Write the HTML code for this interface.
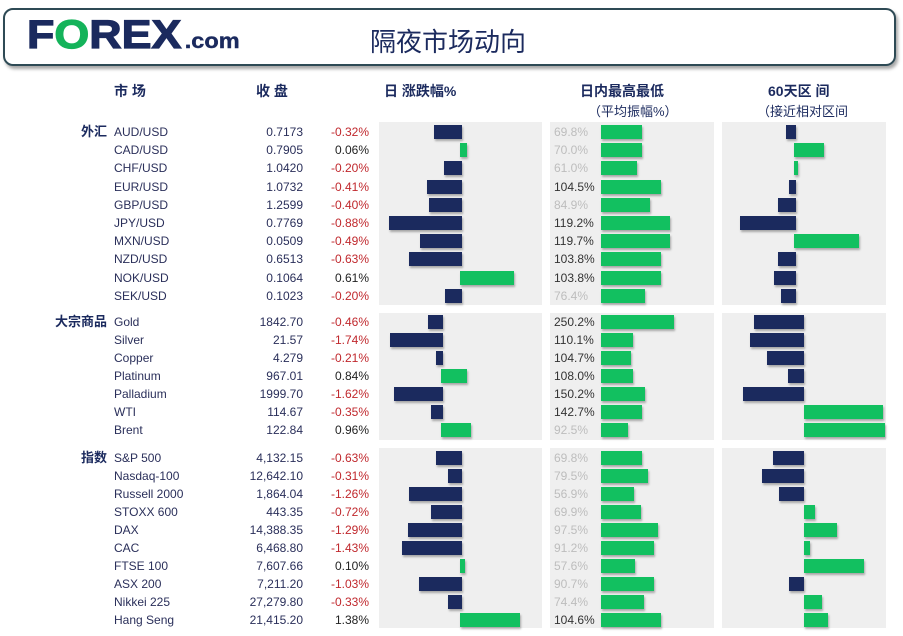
<!DOCTYPE html>
<html><head><meta charset="utf-8"><style>
*{margin:0;padding:0;box-sizing:border-box}
body{width:903px;height:636px;background:#fff;position:relative;overflow:hidden;font-family:"Liberation Sans","Noto Sans CJK SC",sans-serif;color:#2a2f5a}
.hdr{position:absolute;left:3px;top:8px;width:893px;height:58px;border:2px solid #2e4a55;border-radius:10px;box-shadow:2px 3px 3px rgba(0,0,0,.35)}
.logo{position:absolute;left:27px;top:13px;font-size:40px;font-weight:900;color:#1b2a5e;letter-spacing:0px;transform:scaleX(1.12);transform-origin:left top;-webkit-text-stroke:1.2px #1b2a5e}
.logo .o{color:#14b35a;-webkit-text-stroke:1.2px #14b35a}
.logo .com{font-size:21px;letter-spacing:0;-webkit-text-stroke:0.4px #1b2a5e;margin-left:3px}
.title{position:absolute;left:370px;top:22px;font-size:26px;color:#1b2a5e}
.h{position:absolute;font-size:14px;font-weight:bold;color:#1b2a5e}
.hs{position:absolute;font-size:13px;color:#1b2a5e}
.pn{position:absolute;background:#efefef}
.r{position:absolute;left:0;width:903px;height:16px;line-height:16px;font-size:12px}
.n{position:absolute;left:114px;color:#2a2f5a}
.c{position:absolute;right:600px;color:#2a2f5a}
.p{position:absolute;right:534px;color:#222}
.m{color:#c0282d}
.cat{position:absolute;right:796px;font-weight:bold;font-size:13px;color:#1b2a5e}
.a{position:absolute;left:554px;color:#bdbdbd}
.d{color:#333}
.b{position:absolute;height:14px;box-shadow:1px 2px 2px rgba(0,0,0,.3)}
.v{background:#1b2a5e}.g{background:#12c060}
</style></head><body>
<div class="hdr"></div>
<div class="logo">F<span class="o">O</span>REX<span class="com">.com</span></div>
<div class="title">隔夜市场动向</div>
<div class="h" style="left:114px;top:81px">市 场</div>
<div class="h" style="left:256px;top:81px">收 盘</div>
<div class="h" style="left:384px;top:81px">日 涨跌幅%</div>
<div class="h" style="left:580px;top:81px">日内最高最低</div>
<div class="hs" style="left:588px;top:101px">（平均振幅%）</div>
<div class="h" style="left:768px;top:81px">60天区 间</div>
<div class="hs" style="left:757px;top:101px">（接近相对区间</div>

<div class="pn" style="left:379px;top:122px;width:163px;height:183px"></div>
<div class="pn" style="left:550px;top:122px;width:164px;height:183px"></div>
<div class="pn" style="left:722px;top:122px;width:164px;height:183px"></div>
<div class="pn" style="left:379px;top:313px;width:163px;height:127px"></div>
<div class="pn" style="left:550px;top:313px;width:164px;height:127px"></div>
<div class="pn" style="left:722px;top:313px;width:164px;height:127px"></div>
<div class="pn" style="left:379px;top:448px;width:163px;height:180px"></div>
<div class="pn" style="left:550px;top:448px;width:164px;height:180px"></div>
<div class="pn" style="left:722px;top:448px;width:164px;height:180px"></div>

<!-- FX -->
<div class="r" style="top:124px"><span class="cat">外汇</span><span class="n">AUD/USD</span><span class="c">0.7173</span><span class="p m">-0.32%</span><span class="a">69.8%</span></div>
<div class="r" style="top:142px"><span class="n">CAD/USD</span><span class="c">0.7905</span><span class="p">0.06%</span><span class="a">70.0%</span></div>
<div class="r" style="top:160px"><span class="n">CHF/USD</span><span class="c">1.0420</span><span class="p m">-0.20%</span><span class="a">61.0%</span></div>
<div class="r" style="top:179px"><span class="n">EUR/USD</span><span class="c">1.0732</span><span class="p m">-0.41%</span><span class="a d">104.5%</span></div>
<div class="r" style="top:197px"><span class="n">GBP/USD</span><span class="c">1.2599</span><span class="p m">-0.40%</span><span class="a">84.9%</span></div>
<div class="r" style="top:215px"><span class="n">JPY/USD</span><span class="c">0.7769</span><span class="p m">-0.88%</span><span class="a d">119.2%</span></div>
<div class="r" style="top:233px"><span class="n">MXN/USD</span><span class="c">0.0509</span><span class="p m">-0.49%</span><span class="a d">119.7%</span></div>
<div class="r" style="top:251px"><span class="n">NZD/USD</span><span class="c">0.6513</span><span class="p m">-0.63%</span><span class="a d">103.8%</span></div>
<div class="r" style="top:270px"><span class="n">NOK/USD</span><span class="c">0.1064</span><span class="p">0.61%</span><span class="a d">103.8%</span></div>
<div class="r" style="top:288px"><span class="n">SEK/USD</span><span class="c">0.1023</span><span class="p m">-0.20%</span><span class="a">76.4%</span></div>

<div class="b v" style="left:434px;top:125px;width:28px"></div><div class="b g" style="left:601px;top:125px;width:41px"></div><div class="b v" style="left:786px;top:125px;width:10px"></div>
<div class="b g" style="left:460px;top:143px;width:7px"></div><div class="b g" style="left:601px;top:143px;width:41px"></div><div class="b g" style="left:794px;top:143px;width:30px"></div>
<div class="b v" style="left:444px;top:161px;width:18px"></div><div class="b g" style="left:601px;top:161px;width:36px"></div><div class="b g" style="left:794px;top:161px;width:4px"></div>
<div class="b v" style="left:427px;top:180px;width:35px"></div><div class="b g" style="left:601px;top:180px;width:60px"></div><div class="b v" style="left:789px;top:180px;width:7px"></div>
<div class="b v" style="left:429px;top:198px;width:33px"></div><div class="b g" style="left:601px;top:198px;width:49px"></div><div class="b v" style="left:778px;top:198px;width:18px"></div>
<div class="b v" style="left:389px;top:216px;width:73px"></div><div class="b g" style="left:601px;top:216px;width:69px"></div><div class="b v" style="left:740px;top:216px;width:56px"></div>
<div class="b v" style="left:420px;top:234px;width:42px"></div><div class="b g" style="left:601px;top:234px;width:69px"></div><div class="b g" style="left:794px;top:234px;width:65px"></div>
<div class="b v" style="left:409px;top:252px;width:53px"></div><div class="b g" style="left:601px;top:252px;width:60px"></div><div class="b v" style="left:778px;top:252px;width:18px"></div>
<div class="b g" style="left:460px;top:271px;width:54px"></div><div class="b g" style="left:601px;top:271px;width:60px"></div><div class="b v" style="left:774px;top:271px;width:22px"></div>
<div class="b v" style="left:445px;top:289px;width:17px"></div><div class="b g" style="left:601px;top:289px;width:44px"></div><div class="b v" style="left:781px;top:289px;width:15px"></div>

<!-- Commodities -->
<div class="r" style="top:314px"><span class="cat">大宗商品</span><span class="n">Gold</span><span class="c">1842.70</span><span class="p m">-0.46%</span><span class="a d">250.2%</span></div>
<div class="r" style="top:332px"><span class="n">Silver</span><span class="c">21.57</span><span class="p m">-1.74%</span><span class="a d">110.1%</span></div>
<div class="r" style="top:350px"><span class="n">Copper</span><span class="c">4.279</span><span class="p m">-0.21%</span><span class="a d">104.7%</span></div>
<div class="r" style="top:368px"><span class="n">Platinum</span><span class="c">967.01</span><span class="p">0.84%</span><span class="a d">108.0%</span></div>
<div class="r" style="top:386px"><span class="n">Palladium</span><span class="c">1999.70</span><span class="p m">-1.62%</span><span class="a d">150.2%</span></div>
<div class="r" style="top:404px"><span class="n">WTI</span><span class="c">114.67</span><span class="p m">-0.35%</span><span class="a d">142.7%</span></div>
<div class="r" style="top:422px"><span class="n">Brent</span><span class="c">122.84</span><span class="p">0.96%</span><span class="a">92.5%</span></div>

<div class="b v" style="left:428px;top:315px;width:15px"></div><div class="b g" style="left:601px;top:315px;width:73px"></div><div class="b v" style="left:754px;top:315px;width:50px"></div>
<div class="b v" style="left:390px;top:333px;width:53px"></div><div class="b g" style="left:601px;top:333px;width:32px"></div><div class="b v" style="left:750px;top:333px;width:54px"></div>
<div class="b v" style="left:436px;top:351px;width:7px"></div><div class="b g" style="left:601px;top:351px;width:30px"></div><div class="b v" style="left:767px;top:351px;width:37px"></div>
<div class="b g" style="left:441px;top:369px;width:26px"></div><div class="b g" style="left:601px;top:369px;width:32px"></div><div class="b v" style="left:788px;top:369px;width:16px"></div>
<div class="b v" style="left:394px;top:387px;width:49px"></div><div class="b g" style="left:601px;top:387px;width:44px"></div><div class="b v" style="left:743px;top:387px;width:61px"></div>
<div class="b v" style="left:431px;top:405px;width:12px"></div><div class="b g" style="left:601px;top:405px;width:41px"></div><div class="b g" style="left:804px;top:405px;width:79px"></div>
<div class="b g" style="left:441px;top:423px;width:30px"></div><div class="b g" style="left:601px;top:423px;width:27px"></div><div class="b g" style="left:804px;top:423px;width:81px"></div>

<!-- Indices -->
<div class="r" style="top:450px"><span class="cat">指数</span><span class="n">S&amp;P 500</span><span class="c">4,132.15</span><span class="p m">-0.63%</span><span class="a">69.8%</span></div>
<div class="r" style="top:468px"><span class="n">Nasdaq-100</span><span class="c">12,642.10</span><span class="p m">-0.31%</span><span class="a">79.5%</span></div>
<div class="r" style="top:486px"><span class="n">Russell 2000</span><span class="c">1,864.04</span><span class="p m">-1.26%</span><span class="a">56.9%</span></div>
<div class="r" style="top:504px"><span class="n">STOXX 600</span><span class="c">443.35</span><span class="p m">-0.72%</span><span class="a">69.9%</span></div>
<div class="r" style="top:522px"><span class="n">DAX</span><span class="c">14,388.35</span><span class="p m">-1.29%</span><span class="a">97.5%</span></div>
<div class="r" style="top:540px"><span class="n">CAC</span><span class="c">6,468.80</span><span class="p m">-1.43%</span><span class="a">91.2%</span></div>
<div class="r" style="top:558px"><span class="n">FTSE 100</span><span class="c">7,607.66</span><span class="p">0.10%</span><span class="a">57.6%</span></div>
<div class="r" style="top:576px"><span class="n">ASX 200</span><span class="c">7,211.20</span><span class="p m">-1.03%</span><span class="a">90.7%</span></div>
<div class="r" style="top:594px"><span class="n">Nikkei 225</span><span class="c">27,279.80</span><span class="p m">-0.33%</span><span class="a">74.4%</span></div>
<div class="r" style="top:612px"><span class="n">Hang Seng</span><span class="c">21,415.20</span><span class="p">1.38%</span><span class="a d">104.6%</span></div>

<div class="b v" style="left:436px;top:451px;width:26px"></div><div class="b g" style="left:601px;top:451px;width:41px"></div><div class="b v" style="left:773px;top:451px;width:31px"></div>
<div class="b v" style="left:448px;top:469px;width:14px"></div><div class="b g" style="left:601px;top:469px;width:47px"></div><div class="b v" style="left:762px;top:469px;width:42px"></div>
<div class="b v" style="left:409px;top:487px;width:53px"></div><div class="b g" style="left:601px;top:487px;width:33px"></div><div class="b v" style="left:779px;top:487px;width:25px"></div>
<div class="b v" style="left:431px;top:505px;width:31px"></div><div class="b g" style="left:601px;top:505px;width:40px"></div><div class="b g" style="left:804px;top:505px;width:11px"></div>
<div class="b v" style="left:408px;top:523px;width:54px"></div><div class="b g" style="left:601px;top:523px;width:57px"></div><div class="b g" style="left:804px;top:523px;width:33px"></div>
<div class="b v" style="left:402px;top:541px;width:60px"></div><div class="b g" style="left:601px;top:541px;width:53px"></div><div class="b g" style="left:804px;top:541px;width:6px"></div>
<div class="b g" style="left:460px;top:559px;width:5px"></div><div class="b g" style="left:601px;top:559px;width:34px"></div><div class="b g" style="left:804px;top:559px;width:60px"></div>
<div class="b v" style="left:419px;top:577px;width:43px"></div><div class="b g" style="left:601px;top:577px;width:53px"></div><div class="b v" style="left:789px;top:577px;width:15px"></div>
<div class="b v" style="left:448px;top:595px;width:14px"></div><div class="b g" style="left:601px;top:595px;width:43px"></div><div class="b g" style="left:804px;top:595px;width:18px"></div>
<div class="b g" style="left:460px;top:613px;width:60px"></div><div class="b g" style="left:601px;top:613px;width:60px"></div><div class="b g" style="left:804px;top:613px;width:24px"></div>
</body></html>
